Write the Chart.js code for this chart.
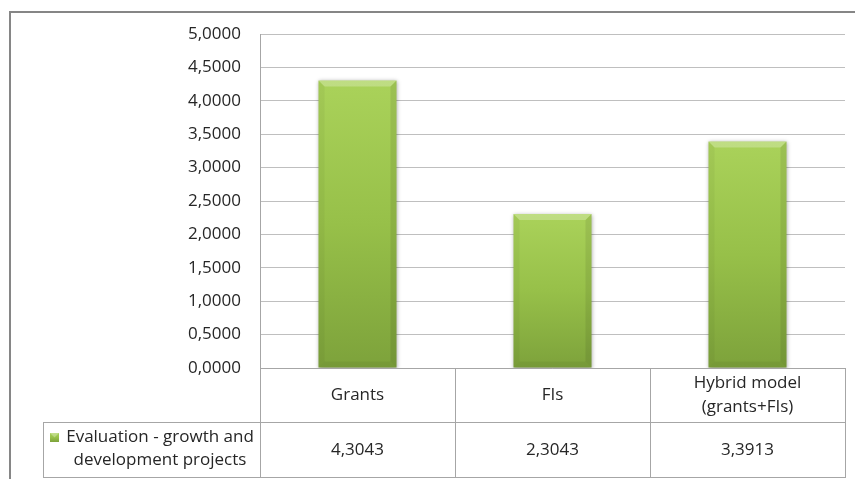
<!DOCTYPE html>
<html>
<head>
<meta charset="utf-8">
<title>Evaluation - growth and development projects</title>
<script src="https://cdn.jsdelivr.net/npm/chart.js"></script>
<style>
  body {
    margin: 0;
    padding: 0;
    background: #fff;
    overflow: hidden;
  }
  canvas {
    display: block;
  }
</style>
</head>
<body>
<canvas id="chart" width="855" height="479"></canvas>
<script>
  // data
  const categories = ['Grants', 'FIs', ['Hybrid model', '(grants+FIs)']];
  const seriesName = ['Evaluation - growth and', 'development projects'];
  const values = [4.3043, 2.3043, 3.3913];
  const yMin = 0;
  const yMax = 5;
  const yStep = 0.5;

  const FONT = '"Open Sans", sans-serif';
  const FSIZE = 17;
  const TEXT = '#262626';
  const LINE = '#a6a6a6';

  const fmt = (v) => v.toFixed(4).replace('.', ',');

  function barGradient(ctx, top, bottom) {
    const g = ctx.createLinearGradient(0, top, 0, bottom);
    g.addColorStop(0, '#aad25a');
    g.addColorStop(0.5, '#97c049');
    g.addColorStop(1, '#7da23b');
    return g;
  }

  // outer frame of the chart object
  const framePlugin = {
    id: 'frame',
    beforeDraw(chart) {
      const ctx = chart.ctx;
      ctx.save();
      ctx.strokeStyle = '#868686';
      ctx.lineWidth = 2;
      ctx.beginPath();
      ctx.moveTo(10, chart.height);
      ctx.lineTo(10, 12);
      ctx.lineTo(chart.width, 12);
      ctx.stroke();
      ctx.restore();
    }
  };

  // soft shadow behind the bars + bevel edges on top
  const bevelPlugin = {
    id: 'bevel',
    beforeDatasetsDraw(chart) {
      const ctx = chart.ctx;
      ctx.save();
      ctx.shadowColor = 'rgba(0,0,0,0.35)';
      ctx.shadowBlur = 4;
      ctx.shadowOffsetY = 1;
    },
    afterDatasetsDraw(chart) {
      const ctx = chart.ctx;
      ctx.restore();
      const meta = chart.getDatasetMeta(0);
      const b = 6;
      meta.data.forEach((bar) => {
        const l = bar.x - bar.width / 2;
        const r = bar.x + bar.width / 2;
        const t = bar.y;
        const btm = bar.base;
        ctx.save();
        // top highlight
        ctx.fillStyle = 'rgba(255,255,255,0.25)';
        ctx.beginPath();
        ctx.moveTo(l, t);
        ctx.lineTo(r, t);
        ctx.lineTo(r - b, t + b);
        ctx.lineTo(l + b, t + b);
        ctx.closePath();
        ctx.fill();
        // left edge
        ctx.fillStyle = 'rgba(0,0,0,0.04)';
        ctx.beginPath();
        ctx.moveTo(l, t);
        ctx.lineTo(l + b, t + b);
        ctx.lineTo(l + b, btm - b);
        ctx.lineTo(l, btm);
        ctx.closePath();
        ctx.fill();
        // right edge
        ctx.fillStyle = 'rgba(0,0,0,0.08)';
        ctx.beginPath();
        ctx.moveTo(r, t);
        ctx.lineTo(r - b, t + b);
        ctx.lineTo(r - b, btm - b);
        ctx.lineTo(r, btm);
        ctx.closePath();
        ctx.fill();
        // bottom edge
        ctx.fillStyle = 'rgba(0,0,0,0.05)';
        ctx.beginPath();
        ctx.moveTo(l, btm);
        ctx.lineTo(l + b, btm - b);
        ctx.lineTo(r - b, btm - b);
        ctx.lineTo(r, btm);
        ctx.closePath();
        ctx.fill();
        ctx.restore();
      });
    }
  };

  // Excel-style data table under the plot
  const tablePlugin = {
    id: 'dataTable',
    afterDraw(chart) {
      const ctx = chart.ctx;
      const area = chart.chartArea;
      const xs = chart.scales.x;
      const n = categories.length;
      const colW = (area.right - area.left) / n;
      const row1Top = area.bottom;
      const row2Top = row1Top + 54;
      const row2Bottom = chart.height - 2;
      const keyLeft = 43;

      ctx.save();
      ctx.strokeStyle = LINE;
      ctx.lineWidth = 1;
      ctx.beginPath();
      // horizontal lines
      ctx.moveTo(area.left, Math.round(row1Top) + 0.5);
      ctx.lineTo(area.right, Math.round(row1Top) + 0.5);
      ctx.moveTo(keyLeft, row2Top + 0.5);
      ctx.lineTo(area.right, row2Top + 0.5);
      ctx.moveTo(keyLeft, row2Bottom + 0.5);
      ctx.lineTo(area.right, row2Bottom + 0.5);
      // vertical lines
      ctx.moveTo(keyLeft + 0.5, row2Top);
      ctx.lineTo(keyLeft + 0.5, row2Bottom + 1);
      for (let i = 0; i <= n; i++) {
        const x = Math.round(area.left + i * colW) + 0.5;
        ctx.moveTo(x, row1Top);
        ctx.lineTo(x, row2Bottom + 1);
      }
      ctx.stroke();

      ctx.fillStyle = TEXT;
      ctx.font = FSIZE + 'px ' + FONT;
      ctx.textAlign = 'center';
      ctx.textBaseline = 'middle';
      const lh = 24;

      // category row
      categories.forEach((c, i) => {
        const lines = Array.isArray(c) ? c : [c];
        const cx = xs.getPixelForValue(i);
        const cy = (row1Top + row2Top) / 2;
        lines.forEach((s, k) => {
          ctx.fillText(s, cx, cy + (k - (lines.length - 1) / 2) * lh);
        });
      });

      // value row
      const cy2 = (row2Top + row2Bottom) / 2 + 1;
      values.forEach((v, i) => {
        ctx.fillText(fmt(v), xs.getPixelForValue(i), cy2);
      });

      // legend key + series name
      const kx = 50, ky = 433, ks = 9;
      ctx.fillStyle = barGradient(ctx, ky, ky + ks);
      ctx.fillRect(kx, ky, ks, ks);
      ctx.fillStyle = 'rgba(255,255,255,0.3)';
      ctx.beginPath();
      ctx.moveTo(kx, ky);
      ctx.lineTo(kx + ks, ky);
      ctx.lineTo(kx + ks / 2, ky + ks / 2);
      ctx.closePath();
      ctx.fill();

      ctx.fillStyle = TEXT;
      const tx = 160;
      seriesName.forEach((s, k) => {
        ctx.fillText(s, tx, 437 + k * 23);
      });
      ctx.restore();
    }
  };

  new Chart(document.getElementById('chart'), {
    type: 'bar',
    data: {
      labels: categories,
      datasets: [{
        label: seriesName.join(' '),
        data: values,
        backgroundColor: (c) => {
          const chart = c.chart;
          if (!chart.chartArea || c.raw === undefined) return '#97c049';
          const y = chart.scales.y;
          return barGradient(chart.ctx, y.getPixelForValue(c.raw), y.getPixelForValue(0));
        },
        borderWidth: 0,
        categoryPercentage: 0.8,
        barPercentage: 0.5
      }]
    },
    options: {
      responsive: false,
      animation: false,
      devicePixelRatio: 1,
      layout: {
        padding: { top: 34, right: 10, bottom: 111, left: 0 }
      },
      plugins: {
        legend: { display: false },
        tooltip: { enabled: false },
        title: { display: false }
      },
      scales: {
        x: {
          display: false
        },
        y: {
          min: yMin,
          max: yMax,
          afterFit(scale) {
            scale.width = 260;
          },
          ticks: {
            stepSize: yStep,
            padding: 19,
            color: TEXT,
            font: { family: FONT, size: FSIZE },
            callback: (v) => fmt(v)
          },
          grid: {
            color: '#bfbfbf',
            drawTicks: false
          },
          border: {
            color: LINE,
            width: 1
          }
        }
      }
    },
    plugins: [framePlugin, bevelPlugin, tablePlugin]
  });
</script>
</body>
</html>
